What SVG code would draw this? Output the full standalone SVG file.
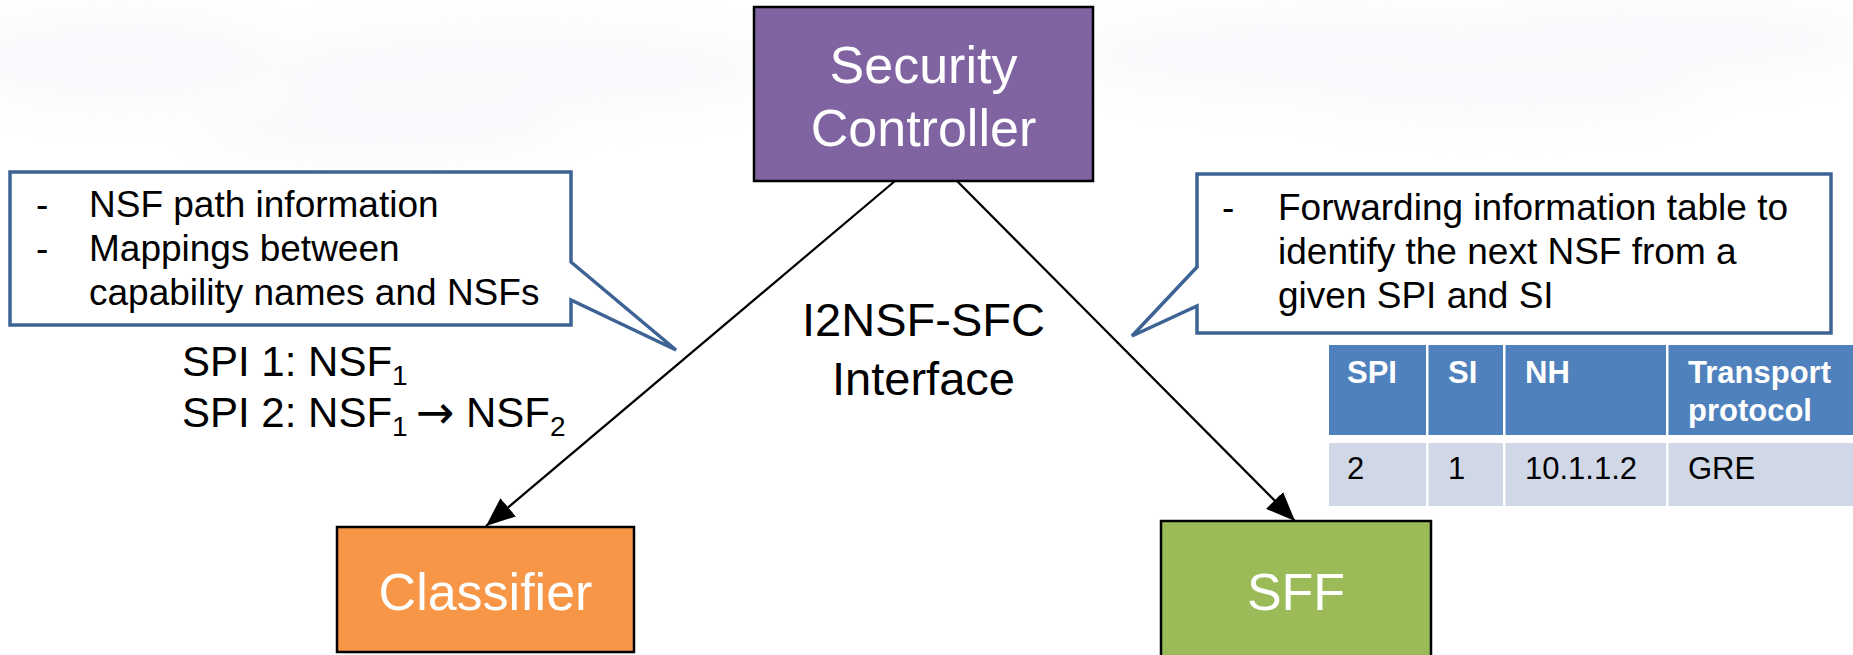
<svg xmlns="http://www.w3.org/2000/svg" width="1853" height="655" viewBox="0 0 1853 655">
  <style>
    .t { font-family: "Liberation Sans", Arial, sans-serif; }
    .node-label { font-size: 52px; fill: #FFFFFF; text-anchor: middle; }
    .node-box { stroke: #000000; stroke-width: 2.5; }
    .callout { fill: #FFFFFF; stroke: #3D6394; stroke-width: 3.5; stroke-linejoin: miter; }
    .callout-text { font-size: 37px; fill: #000000; }
    .conn { stroke: #000000; stroke-width: 2.2; fill: none; marker-end: url(#arrow); }
    .hdr { fill: #4F81BD; }
    .cell { fill: #D0D8E8; }
    .hdr-text { font-size: 31px; font-weight: bold; fill: #FFFFFF; }
    .cell-text { font-size: 31px; fill: #000000; }
    .spi { font-size: 42px; fill: #000000; }
    .sub { font-size: 28px; }
    .arrow-glyph { font-family: "DejaVu Sans", sans-serif; font-size: 46px; fill: #000000; }
  </style>
  <defs>
    <marker id="arrow" markerUnits="userSpaceOnUse" markerWidth="30" markerHeight="24" refX="29" refY="12" orient="auto">
      <path d="M0,0 L29,12 L0,24 Z" fill="#000000"/>
    </marker>
    <filter id="haze" x="-20%" y="-50%" width="140%" height="200%">
      <feGaussianBlur stdDeviation="20"/>
    </filter>
  </defs>

  <!-- page background with faint clouds along the top -->
  <g id="backdrop">
    <rect x="0" y="0" width="1853" height="655" fill="#FFFFFF"/>
    <g filter="url(#haze)" fill="#E9EDF5" opacity="0.3">
      <ellipse cx="120" cy="60" rx="160" ry="50"/>
      <ellipse cx="520" cy="70" rx="260" ry="45"/>
      <ellipse cx="380" cy="130" rx="180" ry="30"/>
      <ellipse cx="1330" cy="55" rx="260" ry="45"/>
      <ellipse cx="1650" cy="40" rx="220" ry="40"/>
      <ellipse cx="1500" cy="95" rx="200" ry="25"/>
    </g>
  </g>

  <!-- connectors -->
  <g id="connectors">
    <line class="conn" x1="895" y1="181" x2="486" y2="526"/>
    <line class="conn" x1="957" y1="181" x2="1295" y2="521"/>
    <text class="t" x="923.5" y="336" font-size="47" text-anchor="middle">I2NSF-SFC</text>
    <text class="t" x="923.5" y="395" font-size="47" text-anchor="middle">Interface</text>
  </g>

  <!-- Security Controller -->
  <g id="security-controller">
    <rect class="node-box" x="754" y="7" width="339" height="174" fill="#8064A2"/>
    <text class="t node-label" x="923.5" y="83">Security</text>
    <text class="t node-label" x="923.5" y="146">Controller</text>
  </g>

  <!-- Classifier -->
  <g id="classifier">
    <rect class="node-box" x="337" y="527" width="297" height="125" fill="#F79646"/>
    <text class="t node-label" x="485.5" y="610">Classifier</text>
  </g>

  <!-- SFF -->
  <g id="sff">
    <rect class="node-box" x="1161" y="521" width="270" height="150" fill="#9BBB59"/>
    <text class="t node-label" x="1296" y="610">SFF</text>
  </g>

  <!-- callout for the classifier -->
  <g id="classifier-callout">
    <path class="callout" d="M10,172 H571 V262 L676,350 L571,300 V325 H10 Z"/>
    <text class="t callout-text" x="36" y="217">-</text>
    <text class="t callout-text" x="89" y="217">NSF path information</text>
    <text class="t callout-text" x="36" y="261">-</text>
    <text class="t callout-text" x="89" y="261">Mappings between</text>
    <text class="t callout-text" x="89" y="305">capability names and NSFs</text>
  </g>

  <!-- service path listing -->
  <g id="spi-list">
    <text class="t spi" x="182" y="376">SPI 1: NSF<tspan class="sub" dy="9">1</tspan></text>
    <text class="t spi" x="182" y="427">SPI 2: NSF<tspan class="sub" dy="9">1</tspan></text>
    <text class="arrow-glyph" x="416" y="428">→</text>
    <text class="t spi" x="466" y="427">NSF<tspan class="sub" dy="9">2</tspan></text>
  </g>

  <!-- callout for the SFF -->
  <g id="sff-callout">
    <path class="callout" d="M1197,174 H1831 V333 H1197 V306 L1132,336 L1197,267 Z"/>
    <text class="t callout-text" x="1222" y="220">-</text>
    <text class="t callout-text" x="1278" y="220">Forwarding information table to</text>
    <text class="t callout-text" x="1278" y="264">identify the next NSF from a</text>
    <text class="t callout-text" x="1278" y="308">given SPI and SI</text>
  </g>

  <!-- forwarding table -->
  <g id="forwarding-table">
    <rect class="hdr" x="1329" y="345" width="97" height="90"/>
    <rect class="hdr" x="1428.5" y="345" width="74.5" height="90"/>
    <rect class="hdr" x="1505.5" y="345" width="160.5" height="90"/>
    <rect class="hdr" x="1668.5" y="345" width="190" height="90"/>
    <rect class="cell" x="1329" y="443" width="97" height="63"/>
    <rect class="cell" x="1428.5" y="443" width="74.5" height="63"/>
    <rect class="cell" x="1505.5" y="443" width="160.5" height="63"/>
    <rect class="cell" x="1668.5" y="443" width="190" height="63"/>
    <text class="t hdr-text" x="1347" y="383">SPI</text>
    <text class="t hdr-text" x="1448" y="383">SI</text>
    <text class="t hdr-text" x="1525" y="383">NH</text>
    <text class="t hdr-text" x="1688" y="383">Transport</text>
    <text class="t hdr-text" x="1688" y="421">protocol</text>
    <text class="t cell-text" x="1347" y="479">2</text>
    <text class="t cell-text" x="1448" y="479">1</text>
    <text class="t cell-text" x="1525" y="479">10.1.1.2</text>
    <text class="t cell-text" x="1688" y="479">GRE</text>
  </g>
</svg>
